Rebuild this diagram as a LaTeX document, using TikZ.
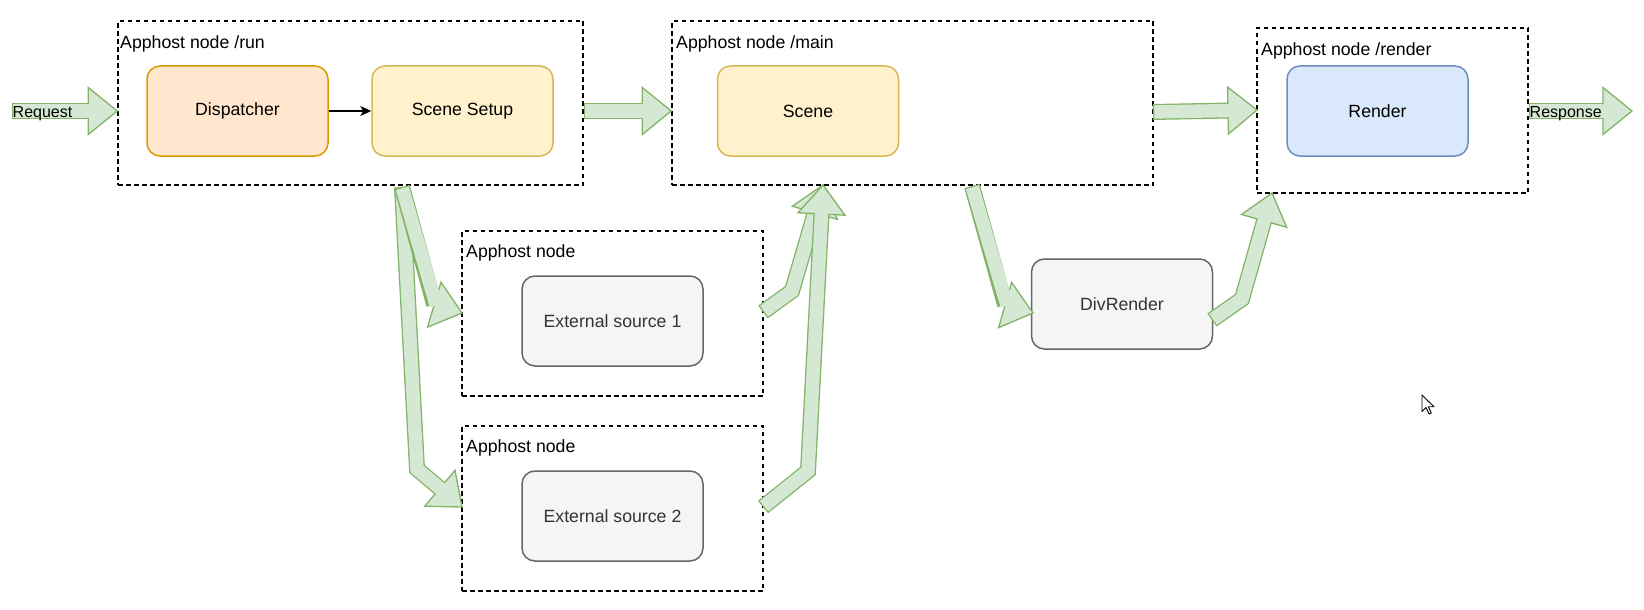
\documentclass[tikz,border=0pt]{standalone}
\usepackage{fontspec}
\setmainfont{Liberation Sans}
\usetikzlibrary{calc,arrows.meta}

\definecolor{gfill}{HTML}{D5E8D4}
\definecolor{gline}{HTML}{82B366}
\definecolor{ofill}{HTML}{FFE6CC}
\definecolor{oline}{HTML}{D79B00}
\definecolor{yfill}{HTML}{FFF2CC}
\definecolor{yline}{HTML}{D6B656}
\definecolor{bfill}{HTML}{DAE8FC}
\definecolor{bline}{HTML}{6C8EBF}
\definecolor{gyfill}{HTML}{F5F5F5}
\definecolor{gyline}{HTML}{666666}
\definecolor{gytext}{HTML}{333333}

\tikzset{
  dbox/.style={draw=black, line width=1.5pt, dash pattern=on 4.5pt off 3.5pt,
    rectangle, inner sep=0pt},
  blk/.style={rectangle, rounded corners=13pt, line width=1.5pt,
    minimum width=181pt, minimum height=90pt,
    font=\fontsize{17.7}{20}\selectfont},
  orangeblk/.style={blk, fill=ofill, draw=oline},
  yellowblk/.style={blk, fill=yfill, draw=yline},
  blueblk/.style={blk, fill=bfill, draw=bline},
  greyblk/.style={blk, fill=gyfill, draw=gyline, text=gytext},
  boxlabel/.style={anchor=west, inner sep=0pt, font=\fontsize{17.7}{20}\selectfont},
  flowlabel/.style={anchor=west, inner sep=0pt, font=\fontsize{16}{18}\selectfont},
}

% Wide outlined arrow: #1 shaft points, #2 point giving the head direction, #3 tip
\newcommand\fatarrow[3]{%
  \path ($(#3)!29pt!(#2)$) coordinate (fa-b);
  \path ($(fa-b)!23.5pt!90:(#3)$) coordinate (fa-l)
        ($(fa-b)!23.5pt!-90:(#3)$) coordinate (fa-r);
  \draw[gline, line width=16pt, line join=miter] #1 -- (fa-b);
  \filldraw[fill=gfill, draw=gline, line width=1.3pt, line join=miter]
    (fa-l) -- (#3) -- (fa-r) -- cycle;
  \draw[gfill, line width=13.4pt, line join=miter, shorten <=1.3pt]
    #1 -- ($(fa-b)!2pt!(#3)$);
}

\begin{document}
\begin{tikzpicture}[x=1pt, y=-1pt]
\useasboundingbox (0,0) rectangle (1644,610);

% group frames
\node[dbox, minimum width=465pt, minimum height=164pt] (runbox) at (350.5,103) {};
\node[dbox, minimum width=481pt, minimum height=164pt] (mainbox) at (912.5,103) {};
\node[dbox, minimum width=271pt, minimum height=165pt] (renderbox) at (1392.5,110.5) {};
\node[dbox, minimum width=301pt, minimum height=165pt] (srconebox) at (612.5,313.5) {};
\node[dbox, minimum width=301pt, minimum height=165pt] (srctwobox) at (612.5,508.5) {};

\node[boxlabel] (runlbl) at (120,43.5) {Apphost node /run};
\node[boxlabel] (mainlbl) at (676,43.5) {Apphost node /main};
\node[boxlabel] (renderlbl) at (1261,50.5) {Apphost node /render};
\node[boxlabel] (srconelbl) at (466,253) {Apphost node};
\node[boxlabel] (srctwolbl) at (466,448) {Apphost node};

% processing blocks
\node[orangeblk] (dispatcher) at (237.5,111) {Dispatcher};
\node[yellowblk] (setup) at (462.5,111) {Scene Setup};
\node[yellowblk] (scene) at (808,111) {Scene};
\node[blueblk] (render) at (1377.5,111) {Render};
\node[greyblk] (srcone) at (612.5,321) {External source 1};
\node[greyblk] (srctwo) at (612.5,516) {External source 2};
\node[greyblk] (divrender) at (1122,304) {DivRender};

\draw[line width=1.3pt, -{Stealth[length=11pt, width=10pt, inset=3pt]}]
  (dispatcher.east) -- (setup.west);

% end points of the wide arrows
\coordinate (reqA) at (12,111);
\coordinate (reqB) at (runbox.west |- dispatcher.center);
\coordinate (rmA) at (runbox.east |- setup.center);
\coordinate (rmB) at (mainbox.west |- scene.center);
\coordinate (mrA) at (1153,112);
\coordinate (mrB) at (1257,110);
\coordinate (resA) at (renderbox.east |- render.center);
\coordinate (resB) at (1632,111);
\coordinate (downA) at (402,187);
\coordinate (oneBend) at (432,304);
\coordinate (oneTip) at (462,313);
\coordinate (twoBend) at (417,469);
\coordinate (twoTip) at (462,507);
\coordinate (upOneA) at (763,312);
\coordinate (upOneBend) at (792,291);
\coordinate (upTwoA) at (763,507);
\coordinate (upTwoBend) at (808,471);
\coordinate (upTip) at (823,185);
\coordinate (divA) at (972,186);
\coordinate (divBend) at (1005,305);
\coordinate (divTip) at (1033,313);
\coordinate (rendA) at (1212,320);
\coordinate (rendBend) at (1242,299);
\coordinate (rendTip) at (1272,193);

% data flow
\fatarrow{(reqA)}{reqA}{reqB}
\fatarrow{(rmA)}{rmA}{rmB}
\fatarrow{(mrA)}{mrA}{mrB}
\fatarrow{(resA)}{resA}{resB}
\fatarrow{(downA) -- (twoBend)}{twoBend}{twoTip}
\fatarrow{(downA)}{oneBend}{oneTip}
\fatarrow{(upOneA) -- (upOneBend)}{upOneBend}{upTip}
\fatarrow{(upTwoA) -- (upTwoBend)}{upTwoBend}{upTip}
\fatarrow{(divA)}{divBend}{divTip}
\fatarrow{(rendA) -- (rendBend)}{rendBend}{rendTip}

\node[flowlabel] (reqlbl) at (12.5,114) {Request};
\node[flowlabel] (reslbl) at (1529.5,114) {Response};

% mouse pointer
\draw[fill=white, line width=0.9pt, line join=round]
  (1422,395) -- ++(0,16.5) -- ++(4,-4) -- ++(3,6.5) -- ++(2.3,-1)
  -- ++(-3,-6.3) -- ++(5.6,0) -- cycle;
\end{tikzpicture}
\end{document}
